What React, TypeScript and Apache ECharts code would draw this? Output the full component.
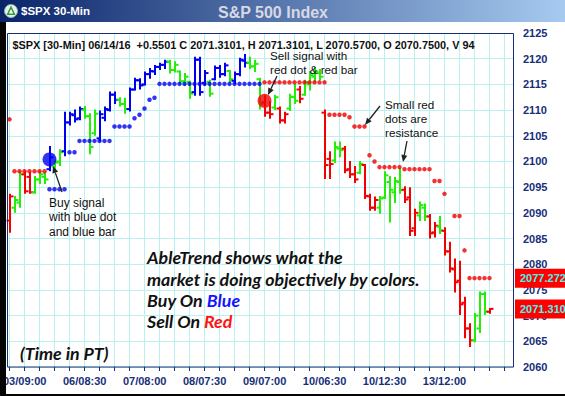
import React, { useEffect, useRef } from "react";
import * as echarts from "echarts";

// ---------- data ----------
const tradingDays = ["03", "06", "07", "08", "09", "10", "13", "14"];
const sessionTimes = ["06:30", "07:00", "07:30", "08:00", "08:30", "09:00", "09:30", "10:00", "10:30", "11:00", "11:30", "12:00", "12:30"];
const yTicks = { min: 2060, max: 2125, step: 5 };

// B = blue (up trend), G = green (neutral), R = red (down trend)
const trendCodes = [
  "R","G","G","R","R","G","G","G","B","G",
  "G","B","B","B","B","G","G","G","B","B",
  "B","B","G","G","B","B","B","B","B","B",
  "B","B","G","G","G","G","G","B","B","B",
  "G","B","B","B","G","B","B","B","G","G",
  "G","R","R","G","R","R","G","G","R","G",
  "G","G","G","R","R","G","G","R","R","R",
  "G","R","R","R","G","G","G","G","G","R",
  "R","R","G","G","R","R","G","R","R","R",
  "R","R","R","G","G","G","R"
];
const openVals = [
  2088.5,2091,2092,2097.5,2097,2094,2096.5,2097,2098.5,2099,
  2100,2102,2107.6,2109,2108.4,2110,2108.8,2105.5,2104.5,2108.5,
  2110,2113,2112,2111.2,2110.2,2114,2115.8,2115,2117,2117.5,
  2118.4,2118.8,2119.4,2117.8,2117.5,2115.6,2115.5,2113.5,2119.8,2115.3,
  2115.5,2116,2118.2,2117,2117.6,2115.7,2117,2119.6,2119.2,2118.5,
  2116,2111.5,2109.5,2110.5,2110.3,2108,2110.3,2112.5,2114,2113,
  2115,2116.5,2117.2,2109.5,2100.5,2100.2,2102.5,2102.5,2098.5,2097.5,
  2097.8,2099.3,2093.2,2091,2091,2093,2096,2094,2096,2094.5,
  2093,2087,2089.5,2091,2089.3,2086.2,2087.3,2086.5,2082.5,2079,
  2076.8,2072.5,2067.5,2065.2,2067.5,2074.2,2070.75
];
const highVals = [
  2093.5,2093.1,2097.9,2097.9,2097.7,2097,2097.9,2097.7,2102.8,2100.2,
  2102.2,2109.5,2109.5,2109.9,2110.5,2110.6,2109.2,2109.9,2109.7,2110.5,
  2113.4,2113.4,2112.3,2112.2,2114.2,2116.1,2116,2117.3,2118,2118.6,
  2119,2119.6,2119.6,2119.3,2117.5,2117,2115.5,2120.2,2120.2,2117.6,
  2115.7,2118.5,2118.6,2119,2117.6,2117.3,2120,2120.7,2120.2,2119.6,
  2116.1,2112.7,2111.5,2112.8,2110.5,2109.5,2113,2114.9,2114.5,2115.7,
  2117.4,2118.2,2117.8,2109.9,2101.8,2103.7,2103.7,2102.8,2099.9,2098.9,
  2099.9,2099.3,2093.5,2093,2093.1,2097.9,2097,2096.8,2098.5,2095,
  2094.8,2090.6,2092,2091.6,2089.6,2088,2089.2,2087,2084.2,2080.9,
  2080.5,2073.5,2068.3,2070.3,2074.5,2074.5,2071.31
];
const lowVals = [
  2086.3,2090.2,2091.2,2093.9,2093.9,2093.9,2095.8,2095.8,2098.3,2098.5,
  2099.3,2101.2,2107.2,2107.8,2108.2,2108.5,2101.6,2105.2,2104.1,2108,
  2109.9,2111.4,2110.9,2109.5,2109.9,2114,2114.2,2115,2116.3,2117,
  2118,2118.2,2117.3,2117.5,2115.3,2115,2112.4,2113,2113,2115,
  2112.8,2116,2116.5,2116.8,2115.5,2115.2,2116.8,2118.5,2118.2,2117.6,
  2110.3,2108.9,2108.5,2110.2,2107.6,2107.6,2110,2111.4,2111.5,2113,
  2114,2115.5,2116,2096.8,2096.8,2099.9,2101,2097.9,2097,2096,
  2097.7,2092.9,2090.6,2090.6,2090,2092.9,2088.3,2092.1,2093.9,2092.1,
  2085.7,2085.7,2088.6,2088.6,2085.2,2085.4,2086.1,2081.9,2078.6,2074.7,
  2070.3,2065.8,2064.1,2065,2066.8,2070.3,2070.57
];
const closeVals = [
  2093.2,2092.5,2097.5,2094.2,2094,2096.5,2097.5,2096.5,2100.8,2099.8,
  2101.8,2107.6,2109.2,2108.2,2110.2,2108.8,2102.8,2109.3,2109.2,2110.2,
  2113,2112,2111.2,2110.2,2114,2115.8,2114.8,2117,2117.6,2118.4,
  2118.8,2119.4,2117.8,2118.8,2115.6,2116.5,2113.2,2119.8,2113.5,2117.2,
  2113.2,2118.2,2117,2118.7,2116,2117,2119.8,2119.2,2118.5,2119,
  2111.2,2109.5,2109.2,2112.5,2108,2109.2,2112.6,2111.8,2112.2,2115.4,
  2116.8,2117.5,2116.5,2099.3,2099.5,2102.8,2102.2,2098.3,2097.5,2096.5,
  2099.5,2093.3,2091,2092.5,2092.8,2097.3,2094.5,2096.2,2094.4,2092.6,
  2086.5,2090,2091.5,2089.3,2086,2087.5,2086.6,2082.5,2079.2,2076.5,
  2072.2,2067.5,2065.2,2070,2074.2,2070.8,2071.31
];
const N = null;
// AbleTrend support stops (small blue dots)
const buyStopVals = [
  N,N,N,N,N,N,N,N,2094.6,2094.6,
  2094.6,2094.6,2101.8,2101.8,2104,2104,2104,2104,2104,2104,
  2104,2106.8,2106.8,2106.8,2106.8,2108.4,2109.1,2110.3,2112,2112.4,
  2115.1,2115.1,2115.1,2115.1,2115.1,2115.1,2115.1,2115.1,2115.1,2115.1,
  2115.1,2115.1,2115.1,2115.1,2115.1,2115.1,2115.1,2115.1,2115.1,2115.1,
  2115.1,N,N,N,N,N,N,N,N,N,
  N,N,N,N,N,N,N,N,N,N,
  N,N,N,N,N,N,N,N,N,N,
  N,N,N,N,N,N,N,N,N,N,
  N,N,N,N,N,N,N
];
// AbleTrend resistance stops (small red dots)
const sellStopVals = [
  2108.2,2098.1,2098.1,2098.1,2098.1,2098.1,2098.1,2098.1,N,N,
  N,N,N,N,N,N,N,N,N,N,
  N,N,N,N,N,N,N,N,N,N,
  N,N,N,N,N,N,N,N,N,N,
  N,N,N,N,N,N,N,N,N,N,
  N,2115.4,2115.4,2115.4,2115.4,2115.4,2115.4,2115.4,2115.4,2115.4,
  2115.4,2115.4,2115.4,2115.4,2109.1,2109.1,2109.1,2109.1,2108.6,2106.8,
  2106.8,2106.8,2101.2,2100,2098.9,2098.9,2098.9,2098.9,2098.9,2098.5,
  2098.5,2098.5,2098.5,2098.5,2098.5,2096.2,2096.2,2093.7,N,2089.4,
  2089.4,2082.7,2077.3,2077.3,2077.3,2077.3,2077.3
];
const buySignalIdx = [8];
const buySignalVal = [2100.4];
const sellSignalIdx = [51];
const sellSignalVal = [2111.8];
const lastPriceTags = ["2077.2727", "2071.3101"];
const lastPriceVals = [2077.27, 2071.31];
const headerText = "$SPX [30-Min] 06/14/16  +0.5501 C 2071.3101, H 2071.3101, L 2070.5700, O 2070.7500, V 94";

const CATEGORY_COUNT = 101;

// ---------- style ----------
const NAVY = "#172f78";
const GRID = "#b9f1f1";
const COLORS: Record<string, string> = { B: "#0000f0", G: "#22ee0a", R: "#f50000" };
const ARIAL = "'Liberation Sans', Arial, sans-serif";
const CAL = "Lato, 'Open Sans', sans-serif";
const BIG = `italic bold 17.8px ${CAL}`;

function buildCategories(): string[] {
  const out: string[] = [];
  tradingDays.forEach((d, di) => {
    sessionTimes.forEach((t, ti) => {
      if (di === 0 && ti < 2) return;
      out.push(`${d}/${t}`);
    });
  });
  return out.slice(0, CATEGORY_COUNT);
}

function arrow(x1: number, y1: number, x2: number, y2: number) {
  const a = Math.atan2(y2 - y1, x2 - x1);
  const L = 7, W = 3;
  const bx = x2 - L * Math.cos(a), by = y2 - L * Math.sin(a);
  const px = -Math.sin(a) * W, py = Math.cos(a) * W;
  return [
    { type: "line", z: 20, shape: { x1, y1, x2: bx, y2: by }, style: { stroke: "#222", lineWidth: 1.3 } },
    { type: "polygon", z: 20, shape: { points: [[x2, y2], [bx + px, by + py], [bx - px, by - py]] }, style: { fill: "#222" } },
  ];
}

function winButton(x: number, kind: string) {
  const y = 5, w = 16, h = 14;
  const kids: any[] = [
    { type: "rect", shape: { x, y, width: w, height: h }, style: { fill: "#d4d0c8", stroke: "#404040", lineWidth: 1 } },
    { type: "line", shape: { x1: x + 1, y1: y + 1, x2: x + w - 1, y2: y + 1 }, style: { stroke: "#ffffff", lineWidth: 1 } },
    { type: "line", shape: { x1: x + 1, y1: y + 1, x2: x + 1, y2: y + h - 1 }, style: { stroke: "#ffffff", lineWidth: 1 } },
  ];
  if (kind === "min") kids.push({ type: "rect", shape: { x: x + 4, y: y + 9, width: 7, height: 2 }, style: { fill: "#000" } });
  if (kind === "max") {
    kids.push({ type: "rect", shape: { x: x + 3.5, y: y + 2.5, width: 9, height: 8 }, style: { fill: "none", stroke: "#000", lineWidth: 1 } });
    kids.push({ type: "rect", shape: { x: x + 3, y: y + 2, width: 10, height: 2 }, style: { fill: "#000" } });
  }
  if (kind === "close") {
    kids.push({ type: "line", shape: { x1: x + 4, y1: y + 3, x2: x + 12, y2: y + 11 }, style: { stroke: "#000", lineWidth: 2 } });
    kids.push({ type: "line", shape: { x1: x + 12, y1: y + 3, x2: x + 4, y2: y + 11 }, style: { stroke: "#000", lineWidth: 2 } });
  }
  return { type: "group", z: 30, children: kids };
}

export default function App() {
  const ref = useRef<HTMLDivElement>(null);

  useEffect(() => {
    if (!ref.current) return;
    const chart = echarts.init(ref.current, undefined, { renderer: "svg" });
    const categories = buildCategories();

    const ohlcData = openVals.map((o, i) => [i, o, highVals[i], lowVals[i], closeVals[i]]);
    const buyStops = buyStopVals.map((v, i) => (v == null ? null : [i, v])).filter(Boolean);
    const sellStops = sellStopVals.map((v, i) => (v == null ? null : [i, v])).filter(Boolean);

    const gridTop = 33, gridH = 334;
    const yPix = (v: number) => gridTop + ((yTicks.max - v) / (yTicks.max - yTicks.min)) * gridH;

    const graphics: any[] = [
      // title bar
      {
        type: "rect", z: 30, shape: { x: 0, y: 0, width: 565, height: 22 },
        style: { fill: new echarts.graphic.LinearGradient(0, 0, 1, 0, [{ offset: 0, color: "#0a246a" }, { offset: 1, color: "#a6caf0" }]) },
      },
      { type: "circle", z: 31, shape: { cx: 11, cy: 11, r: 6.5 }, style: { fill: "#e8f0e8", stroke: "#8aa", lineWidth: 1 } },
      { type: "polygon", z: 32, shape: { points: [[11, 5.5], [15.5, 15], [6.5, 15]] }, style: { fill: "#2a9a3a" } },
      { type: "polygon", z: 33, shape: { points: [[11, 9], [13.2, 13.5], [8.8, 13.5]] }, style: { fill: "#ffffff" } },
      { type: "text", z: 31, x: 21, y: 11, style: { text: "$SPX 30-Min", fill: "#ffffff", font: `bold 11.5px ${ARIAL}`, verticalAlign: "middle" } },
      { type: "text", z: 31, x: 273, y: 12, style: { text: "S&P 500 Index", fill: "#d6d9e4", font: `bold 16px ${ARIAL}`, align: "center", verticalAlign: "middle" } },
      winButton(510, "min"),
      winButton(527, "max"),
      winButton(546, "close"),
      // window frame
      { type: "rect", z: 30, shape: { x: 0, y: 22, width: 6, height: 374 }, style: { fill: "#050505" } },
      { type: "rect", z: 30, shape: { x: 0, y: 394, width: 565, height: 2 }, style: { fill: "#050505" } },
      // plot border
      { type: "rect", z: 10, shape: { x: 7.5, y: 33.5, width: 506, height: 333.5 }, style: { fill: "none", stroke: NAVY, lineWidth: 1 } },
      // header
      { type: "text", z: 20, x: 12.5, y: 44.5, style: { text: headerText, fill: "#111", font: `bold 10.9px ${ARIAL}`, verticalAlign: "middle" } },
      // annotations
      { type: "text", z: 20, x: 49, y: 196, style: { text: "Buy signal\nwith blue dot\nand blue bar", fill: "#111", font: `12px ${ARIAL}`, lineHeight: 14.3, verticalAlign: "top" } },
      { type: "text", z: 20, x: 270, y: 48.5, style: { text: "Sell signal with\nred dot & red bar", fill: "#111", font: `11.7px ${ARIAL}`, lineHeight: 14, verticalAlign: "top" } },
      { type: "text", z: 20, x: 385, y: 98, style: { text: "Small red\ndots are\nresistance", fill: "#111", font: `11.7px ${ARIAL}`, lineHeight: 13.9, verticalAlign: "top" } },
      ...arrow(62, 192, 53, 166),
      ...arrow(277, 76, 268, 95),
      ...arrow(380, 106, 365, 125),
      ...arrow(407, 141, 403, 162),
      { type: "text", z: 20, x: 147, y: 257, style: { text: "AbleTrend shows what the", fill: "#111", font: BIG, verticalAlign: "middle" } },
      { type: "text", z: 20, x: 147, y: 278.5, style: { text: "market is doing objectively by colors.", fill: "#111", font: BIG, verticalAlign: "middle" } },
      {
        type: "text", z: 20, x: 147, y: 299.5,
        style: { text: "Buy On {b|Blue}", fill: "#111", font: BIG, verticalAlign: "middle", rich: { b: { fill: "#1414ff", font: BIG } } },
      },
      {
        type: "text", z: 20, x: 147, y: 321,
        style: { text: "Sell On {r|Red}", fill: "#111", font: BIG, verticalAlign: "middle", rich: { r: { fill: "#ff1414", font: BIG } } },
      },
      { type: "text", z: 20, x: 20, y: 353, style: { text: "(Time in PT)", fill: "#111", font: BIG, verticalAlign: "middle" } },
    ];
    lastPriceTags.forEach((t, k) => {
      const cy = yPix(lastPriceVals[k]);
      graphics.push({ type: "rect", z: 50, shape: { x: 515, y: cy - 9.5, width: 52, height: 19 }, style: { fill: "#ff0000" } });
      graphics.push({ type: "text", z: 51, x: 520, y: cy, style: { text: t, fill: "#3ff6f0", font: `bold 11px ${ARIAL}`, verticalAlign: "middle" } });
    });

    const option: any = {
      animation: false,
      backgroundColor: "#ffffff",
      grid: [
        { left: 7.5, top: gridTop, width: 506, height: gridH },
        { left: 9.5, top: gridTop, width: 500, height: gridH },
      ],
      xAxis: [
        { type: "value", gridIndex: 0, min: -0.4, max: 100.8, show: false },
        {
          type: "category", gridIndex: 1, data: categories, boundaryGap: false,
          axisLine: { show: false },
          axisTick: { show: true, interval: (idx: number) => idx % 3 === 0, length: 4, lineStyle: { color: NAVY, width: 1 } },
          axisLabel: {
            interval: (idx: number) => idx % 12 === 3 && idx <= 87,
            color: NAVY, fontWeight: "bold", fontSize: 11, fontFamily: ARIAL, margin: 8,
          },
          splitLine: { show: true, interval: (idx: number) => idx % 3 === 0, lineStyle: { color: GRID, width: 1 } },
        },
      ],
      yAxis: [
        {
          type: "value", gridIndex: 0, position: "right", min: yTicks.min, max: yTicks.max, interval: yTicks.step,
          axisLine: { show: false }, axisTick: { show: false },
          axisLabel: { color: NAVY, fontWeight: "bold", fontSize: 11, fontFamily: ARIAL, margin: 9.5, formatter: (v: number) => String(v) },
          splitLine: { show: true, lineStyle: { color: GRID, width: 1 } },
        },
        { type: "value", gridIndex: 1, min: 0, max: 1, show: false },
      ],
      graphic: graphics,
      series: [
        {
          type: "custom", name: "bars", xAxisIndex: 0, yAxisIndex: 0, data: ohlcData, z: 5,
          encode: { x: 0, y: [1, 2, 3, 4] },
          renderItem: (params: any, api: any) => {
            const i = api.value(0);
            const color = COLORS[trendCodes[i]];
            const pH = api.coord([i, api.value(2)]);
            const pL = api.coord([i, api.value(3)]);
            const pO = api.coord([i, api.value(1)]);
            const pC = api.coord([i, api.value(4)]);
            const x = Math.round(pH[0]);
            const st = { stroke: color, lineWidth: 2 };
            return {
              type: "group",
              children: [
                { type: "line", shape: { x1: x, y1: pH[1] - 1, x2: x, y2: pL[1] + 1 }, style: st },
                { type: "line", shape: { x1: x - 3.5, y1: pO[1], x2: x, y2: pO[1] }, style: st },
                { type: "line", shape: { x1: x, y1: pC[1], x2: x + 3.5, y2: pC[1] }, style: st },
              ],
            };
          },
        },
        {
          type: "scatter", name: "support", xAxisIndex: 0, yAxisIndex: 0, data: buyStops, z: 6,
          symbol: "circle", symbolSize: 4.5, itemStyle: { color: "#0000f0" },
        },
        {
          type: "scatter", name: "resistance", xAxisIndex: 0, yAxisIndex: 0, data: sellStops, z: 6,
          symbol: "circle", symbolSize: 4.5, itemStyle: { color: "#f00000" },
        },
        {
          type: "scatter", name: "buy", xAxisIndex: 0, yAxisIndex: 0, z: 7,
          data: buySignalIdx.map((i, k) => [i, buySignalVal[k]]),
          symbol: "circle", symbolSize: 14, itemStyle: { color: "#0000f0" },
        },
        {
          type: "scatter", name: "sell", xAxisIndex: 0, yAxisIndex: 0, z: 7,
          data: sellSignalIdx.map((i, k) => [i, sellSignalVal[k]]),
          symbol: "circle", symbolSize: 14, itemStyle: { color: "#f50000" },
        },
      ],
    };
    chart.setOption(option);
    return () => chart.dispose();
  }, []);

  return (
    <div
      ref={ref}
      style={{ position: "fixed", left: 0, top: 0, width: 565, height: 396, background: "#fff" }}
    />
  );
}
